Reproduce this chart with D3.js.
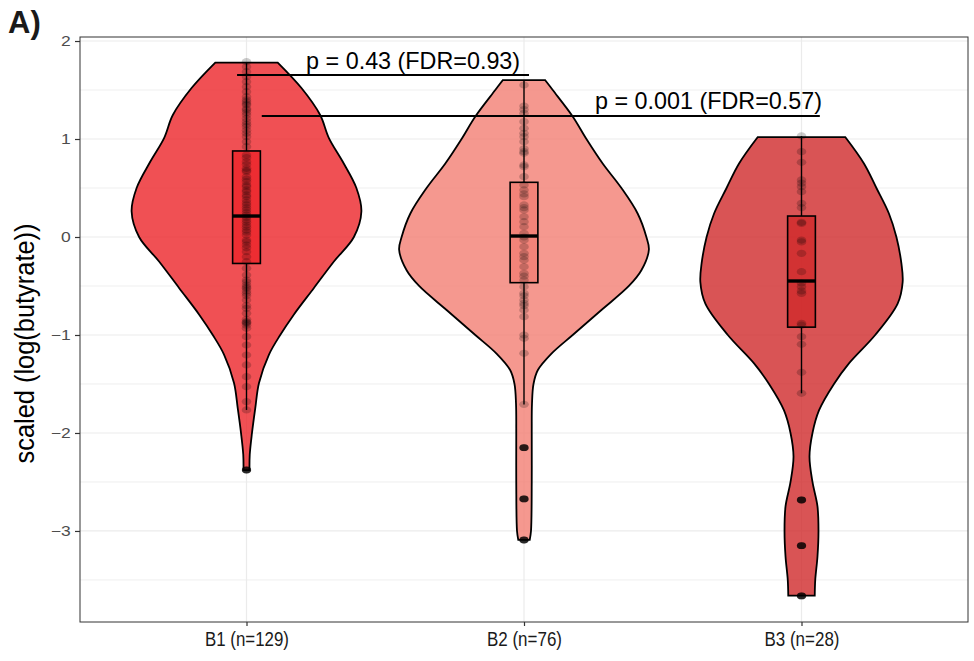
<!DOCTYPE html>
<html>
<head>
<meta charset="utf-8">
<script src="https://cdn.jsdelivr.net/npm/d3@7"></script>
<style>
  body { margin: 0; background: #fff; }
  text { font-family: "Liberation Sans", Arial, sans-serif; }
</style>
</head>
<body>
<svg id="chart" width="974" height="661"></svg>
<script>
// groups and colours
const groups = ["B1 (n=129)", "B2 (n=76)", "B3 (n=28)"];
const groupColors = ["#ec2429", "#f27e73", "#cf292a"];

// violin outlines: y value and relative density
const b1DensY = [1.78, 1.52, 1.245, 1.01, 0.77, 0.5, 0.26, 0.0, -0.25, -0.52, -0.79, -1.0, -1.2, -1.49, -1.75, -2.0, -2.22, -2.38];
const b1DensW = [0.25, 0.44, 0.59, 0.66, 0.77, 0.88, 0.92, 0.86, 0.70, 0.54, 0.38, 0.27, 0.18, 0.10, 0.07, 0.044, 0.026, 0.024];
const b2DensY = [1.60, 1.5, 1.23, 1.0, 0.75, 0.5, 0.24, 0.0, -0.13, -0.34, -0.5, -0.745, -1.0, -1.19, -1.36, -1.5, -1.7, -2.0, -2.5, -3.0, -3.09];
const b2DensW = [0.17, 0.23, 0.39, 0.50, 0.63, 0.78, 0.91, 0.98, 1.0, 0.94, 0.84, 0.62, 0.39, 0.22, 0.11, 0.076, 0.064, 0.062, 0.062, 0.056, 0.046];
const b3DensY = [1.02, 0.75, 0.5, 0.24, 0.0, -0.27, -0.46, -0.68, -1.0, -1.29, -1.5, -1.77, -2.0, -2.24, -2.5, -2.75, -3.0, -3.26, -3.5, -3.66];
const b3DensW = [0.35, 0.50, 0.60, 0.70, 0.76, 0.80, 0.81, 0.77, 0.59, 0.38, 0.26, 0.14, 0.088, 0.064, 0.088, 0.128, 0.136, 0.128, 0.11, 0.106];

// boxplot stats
const boxLower = [-0.27, -0.466, -0.92];
const boxMiddle = [0.214, 0.01, -0.449];
const boxUpper = [0.878, 0.558, 0.214];
const whiskerLow = [-1.765, -1.71, -1.595];
const whiskerHigh = [1.78, 1.60, 1.03];
const b1Outliers = [-2.378];
const b2Outliers = [-2.15, -2.673, -3.092];
const b3Outliers = [-2.684, -3.15, -3.663];

// observations (the visible dots)
const b1Points = [1.789, 1.738, 1.687, 1.636, 1.585, 1.534, 1.483, 1.432, 1.40, 1.381, 1.36, 1.347, 1.31, 1.296, 1.27, 1.245,
  1.21, 1.177, 1.15, 1.126, 1.09, 1.058, 1.024, 0.973, 0.922, 0.837, 0.81, 0.769, 0.74, 0.701, 0.68, 0.667, 0.616, 0.59,
  0.565, 0.53, 0.514, 0.48, 0.463, 0.429, 0.41, 0.378, 0.35, 0.327, 0.30, 0.276, 0.25, 0.224, 0.20, 0.173, 0.15, 0.122,
  0.10, 0.071, 0.05, 0.020, -0.031, -0.05, -0.082, -0.11, -0.150, -0.201, -0.252, -0.320, -0.388, -0.439, -0.46, -0.490,
  -0.51, -0.524, -0.55, -0.575, -0.60, -0.643, -0.70, -0.728, -0.779, -0.84, -0.864, -0.87, -0.881, -0.90, -0.932,
  -1.017, -1.102, -1.204, -1.306, -1.425, -1.527, -1.680, -1.765, -2.378];
const b2Points = [1.551, 1.337, 1.30, 1.262, 1.177, 1.109, 1.058, 1.024, 0.973, 0.90, 0.871, 0.854, 0.735, 0.718, 0.616,
  0.531, 0.480, 0.44, 0.412, 0.327, 0.30, 0.276, 0.207, 0.156, 0.105, 0.037, 0.00, -0.031, -0.099, -0.167, -0.20, -0.235,
  -0.303, -0.371, -0.40, -0.439, -0.507, -0.575, -0.60, -0.643, -0.677, -0.70, -0.745, -0.813, -1.000, -1.034, -1.187,
  -1.708, -2.150, -2.673, -3.092];
const b3Points = [1.031, 0.871, 0.762, 0.582, 0.55, 0.514, 0.463, 0.344, 0.30, 0.15, 0.139, -0.031, -0.05, -0.167, -0.354,
  -0.47, -0.507, -0.55, -0.575, -0.881, -0.90, -1.017, -1.095, -1.381, -1.595, -2.684, -3.150, -3.663];

// y axis ticks
const yTicks = [-3, -2, -1, 0, 1, 2];
const yMinor = [-3.5, -2.5, -1.5, -0.5, 0.5, 1.5];

// significance brackets (x in group-index units)
const sigLabels = ["p = 0.43 (FDR=0.93)", "p = 0.001 (FDR=0.57)"];
const sigY = [1.653, 1.235];
const sigFrom = [-0.034, 0.055];
const sigTo = [1.018, 2.066];
const sigTextEnd = [0.986, 2.074];
const sigTextWidth = [214, 227];

const profiles = [
  { y: b1DensY, w: b1DensW },
  { y: b2DensY, w: b2DensW },
  { y: b3DensY, w: b3DensW }
];
const pointSets = [b1Points, b2Points, b3Points];
const outlierSets = [b1Outliers, b2Outliers, b3Outliers];

const svg = d3.select("#chart");
const panel = { left: 80, right: 968, top: 37, bottom: 622 };

const x = d3.scalePoint().domain(groups).range([panel.left, panel.right]).padding(0.6);
const y = d3.scaleLinear().domain([-3.929, 2.041]).range([panel.bottom, panel.top]);
const xIdx = d3.scaleLinear().domain([0, 2]).range([x(groups[0]), x(groups[2])]);
const halfW = d3.scaleLinear().domain([0, 1]).range([0, x.step() * 0.45]);
const boxHalf = x.step() * 0.05;

// grid
const grid = svg.append("g");
grid.selectAll(".minor").data(yMinor).join("line")
  .attr("x1", panel.left).attr("x2", panel.right)
  .attr("y1", d => y(d)).attr("y2", d => y(d))
  .attr("stroke", "#efefef").attr("stroke-width", 1);
grid.selectAll(".major").data(yTicks).join("line")
  .attr("x1", panel.left).attr("x2", panel.right)
  .attr("y1", d => y(d)).attr("y2", d => y(d))
  .attr("stroke", "#ebebeb").attr("stroke-width", 1.2);
grid.selectAll(".vx").data(groups).join("line")
  .attr("x1", d => x(d)).attr("x2", d => x(d))
  .attr("y1", panel.top).attr("y2", panel.bottom)
  .attr("stroke", "#ebebeb").attr("stroke-width", 1.2);

// violins
groups.forEach((g, i) => {
  const cx = x(g);
  const rows = profiles[i].y.map((v, k) => ({ v: v, w: profiles[i].w[k] }));
  const area = d3.area()
    .y(d => y(d.v))
    .x0(d => cx - halfW(d.w))
    .x1(d => cx + halfW(d.w))
    .curve(d3.curveCatmullRom);
  svg.append("path")
    .attr("d", area(rows))
    .attr("fill", groupColors[i]).attr("fill-opacity", 0.8)
    .attr("stroke", "#000").attr("stroke-width", 1.8);
});

// boxplots
groups.forEach((g, i) => {
  const cx = x(g);
  const b = svg.append("g");
  b.append("line").attr("x1", cx).attr("x2", cx)
    .attr("y1", y(boxUpper[i])).attr("y2", y(whiskerHigh[i]))
    .attr("stroke", "#000").attr("stroke-width", 1.4);
  b.append("line").attr("x1", cx).attr("x2", cx)
    .attr("y1", y(boxLower[i])).attr("y2", y(whiskerLow[i]))
    .attr("stroke", "#000").attr("stroke-width", 1.4);
  b.append("rect")
    .attr("x", cx - boxHalf).attr("width", boxHalf * 2)
    .attr("y", y(boxUpper[i])).attr("height", y(boxLower[i]) - y(boxUpper[i]))
    .attr("fill", groupColors[i]).attr("fill-opacity", 0.8)
    .attr("stroke", "#000").attr("stroke-width", 1.6);
  b.append("line").attr("x1", cx - boxHalf).attr("x2", cx + boxHalf)
    .attr("y1", y(boxMiddle[i])).attr("y2", y(boxMiddle[i]))
    .attr("stroke", "#000").attr("stroke-width", 3.4);
  b.selectAll(".out").data(outlierSets[i]).join("ellipse")
    .attr("cx", cx).attr("cy", d => y(d))
    .attr("rx", 4.6).attr("ry", 3.4)
    .attr("fill", "#000").attr("fill-opacity", 0.8);
});

// points
groups.forEach((g, i) => {
  svg.append("g").selectAll("ellipse").data(pointSets[i]).join("ellipse")
    .attr("cx", x(g)).attr("cy", d => y(d))
    .attr("rx", 4.8).attr("ry", 3.6)
    .attr("fill", "#000").attr("fill-opacity", 0.2);
});

// significance brackets
sigLabels.forEach((lab, i) => {
  svg.append("line")
    .attr("x1", xIdx(sigFrom[i])).attr("x2", xIdx(sigTo[i]))
    .attr("y1", y(sigY[i])).attr("y2", y(sigY[i]))
    .attr("stroke", "#000").attr("stroke-width", 2.2);
  svg.append("text")
    .attr("x", xIdx(sigTextEnd[i])).attr("y", y(sigY[i]) - 6.5)
    .attr("text-anchor", "end")
    .attr("font-size", 24)
    .attr("textLength", sigTextWidth[i]).attr("lengthAdjust", "spacingAndGlyphs")
    .attr("fill", "#000")
    .text(lab);
});

// panel border
svg.append("rect")
  .attr("x", panel.left).attr("y", panel.top)
  .attr("width", panel.right - panel.left).attr("height", panel.bottom - panel.top)
  .attr("fill", "none").attr("stroke", "#333").attr("stroke-width", 1);

// y axis
const yAxis = svg.append("g").attr("transform", `translate(${panel.left},0)`)
  .call(d3.axisLeft(y).tickValues(yTicks).tickSize(5).tickPadding(4)
    .tickFormat(d => d < 0 ? "\u2212" + Math.abs(d) : String(d)));
yAxis.select(".domain").remove();
yAxis.selectAll(".tick line").attr("stroke", "#333").attr("stroke-width", 1.2);
yAxis.selectAll(".tick text")
  .attr("fill", "#4d4d4d").attr("font-size", 14)
  .attr("font-family", "'Liberation Sans', Arial, sans-serif")
  .attr("transform", "scale(1.25,1)").attr("x", -7.5);

// x axis
const xAxis = svg.append("g").attr("transform", `translate(0,${panel.bottom})`)
  .call(d3.axisBottom(x).tickSize(4).tickPadding(6));
xAxis.select(".domain").remove();
xAxis.selectAll(".tick line").attr("stroke", "#333").attr("stroke-width", 1.2);
xAxis.selectAll(".tick text")
  .attr("fill", "#1a1a1a").attr("font-size", 20)
  .attr("font-family", "'Liberation Sans Narrow', 'Liberation Sans', Arial, sans-serif")
  .attr("textLength", d => d.length > 9 ? 84 : 75).attr("lengthAdjust", "spacingAndGlyphs");

// y axis title
svg.append("text")
  .attr("transform", `translate(34,${(panel.top + panel.bottom) / 2 + 14}) rotate(-90)`)
  .attr("text-anchor", "middle")
  .attr("font-size", 27)
  .attr("textLength", 240).attr("lengthAdjust", "spacingAndGlyphs")
  .attr("fill", "#000")
  .text("scaled (log(butyrate))");

// panel tag
svg.append("text")
  .attr("x", 8).attr("y", 33)
  .attr("font-size", 31).attr("font-weight", "bold")
  .attr("fill", "#1a1a1a")
  .text("A)");
</script>
</body>
</html>
